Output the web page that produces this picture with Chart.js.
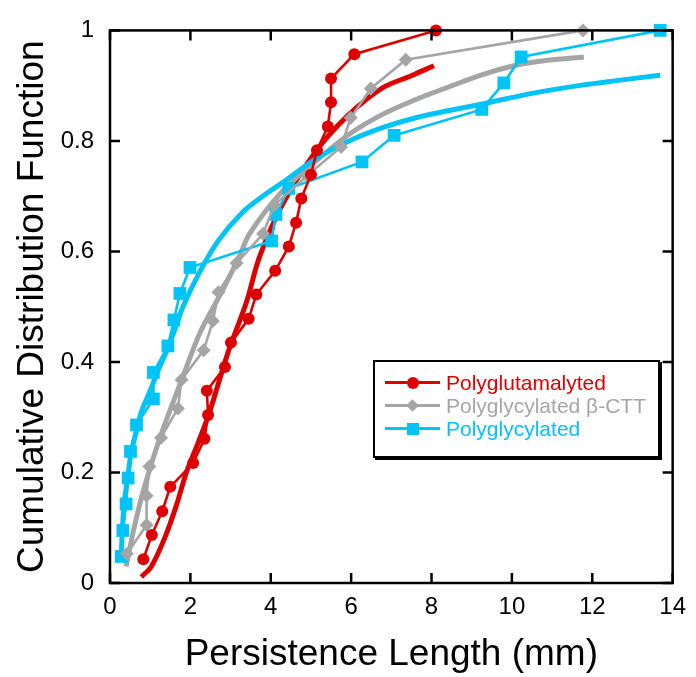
<!DOCTYPE html>
<html>
<head>
<meta charset="utf-8">
<script src="https://cdn.jsdelivr.net/npm/chart.js@4.4.1/dist/chart.umd.min.js"></script>
<style>
html, body { margin: 0; padding: 0; background: #fff; }
#wrap { position: relative; width: 696px; height: 677px; }
#legend {
    position: absolute; left: 373px; top: 360px; width: 283px; height: 85px;
    border: 2px solid #000; box-shadow: 2px 2px 0 #000; background: #fff;
    font-family: "Liberation Sans", Arial, sans-serif; font-size: 21px;
    padding-top: 9px; box-sizing: content-box;
}
.row { height: 23px; line-height: 23px; display: flex; align-items: center; }
.key { position: relative; width: 55px; height: 23px; margin-left: 10px; margin-right: 6px; }
.key .ln { position: absolute; left: 0; right: 0; top: 10px; height: 2.6px; }
.key .mk { position: absolute; left: 50%; top: 50%; }
</style>
</head>
<body>
<div id="wrap">
    <canvas id="cdfChart" width="696" height="677"></canvas>
    <div id="legend"></div>
</div>
<script>
// ── data ──
const glutX = [0.83, 1.04, 1.30, 1.50, 2.07, 2.35, 2.44, 2.41, 2.86, 3.01, 3.45, 3.64, 4.11, 4.45, 4.63, 4.76, 5.00, 5.15, 5.42, 5.50, 5.50, 6.08, 8.11];
const glutY = [0.043, 0.087, 0.130, 0.174, 0.217, 0.261, 0.304, 0.348, 0.391, 0.435, 0.478, 0.522, 0.565, 0.609, 0.652, 0.696, 0.739, 0.783, 0.826, 0.870, 0.913, 0.957, 1.0];
const glutFitX = [0.78, 1.03, 1.37, 1.65, 1.90, 2.20, 2.48, 2.94, 3.39, 3.72, 4.30, 5.13, 5.95, 6.78, 7.50, 8.06];
const glutFitY = [0.011, 0.03, 0.083, 0.14, 0.20, 0.255, 0.31, 0.418, 0.507, 0.59, 0.686, 0.782, 0.848, 0.896, 0.918, 0.936];

const ctdX = [0.42, 0.91, 0.91, 0.98, 1.27, 1.69, 1.78, 2.33, 2.56, 2.70, 3.15, 3.81, 4.09, 4.90, 5.75, 5.99, 6.49, 7.36, 11.77];
const ctdY = [0.053, 0.105, 0.158, 0.211, 0.263, 0.316, 0.368, 0.421, 0.474, 0.526, 0.579, 0.632, 0.684, 0.737, 0.789, 0.842, 0.895, 0.947, 1.0];
const ctdFitX = [0.40, 0.60, 0.83, 1.24, 1.78, 2.24, 2.81, 3.22, 3.47, 4.30, 5.13, 5.95, 6.78, 7.61, 8.44, 9.27, 10.1, 10.9, 11.79];
const ctdFitY = [0.03, 0.10, 0.167, 0.262, 0.367, 0.453, 0.531, 0.591, 0.632, 0.71, 0.764, 0.812, 0.848, 0.875, 0.898, 0.92, 0.937, 0.946, 0.952];

const glyX = [0.28, 0.32, 0.40, 0.45, 0.51, 0.66, 1.08, 1.08, 1.44, 1.59, 1.74, 1.99, 4.02, 4.13, 4.45, 6.27, 7.07, 9.25, 9.80, 10.23, 13.69];
const glyY = [0.048, 0.095, 0.143, 0.190, 0.238, 0.286, 0.333, 0.381, 0.429, 0.476, 0.524, 0.571, 0.619, 0.667, 0.714, 0.762, 0.810, 0.857, 0.905, 0.952, 1.0];
const glyFitX = [0.28, 0.31, 0.36, 0.44, 0.53, 0.66, 0.78, 0.99, 1.20, 1.40, 1.62, 1.82, 2.24, 2.70, 3.30, 3.80, 4.30, 5.13, 5.95, 6.78, 7.61, 8.44, 9.27, 10.5, 11.74, 12.7, 13.69];
const glyFitY = [0.047, 0.10, 0.149, 0.19, 0.238, 0.275, 0.31, 0.346, 0.385, 0.418, 0.46, 0.501, 0.564, 0.62, 0.671, 0.70, 0.725, 0.768, 0.80, 0.824, 0.842, 0.855, 0.867, 0.886, 0.901, 0.91, 0.919];

const xTickValues = [0, 2, 4, 6, 8, 10, 12, 14];
const yTickValues = [0, 0.2, 0.4, 0.6, 0.8, 1];

const RED = '#de0000', GRAY = '#a5a5a5', CYAN = '#00c3f7';
const FONT = '"Liberation Sans", Arial, sans-serif';

const series = [
    { label: 'Polyglutamalyted', xs: glutX, ys: glutY, color: RED, style: 'circle', radius: 6 },
    { label: 'Polyglycylated \u03b2-CTT', xs: ctdX, ys: ctdY, color: GRAY, style: 'rectRot', radius: 7 },
    { label: 'Polyglycylated', xs: glyX, ys: glyY, color: CYAN, style: 'rect', radius: 9 }
];
const fits = [
    { xs: glutFitX, ys: glutFitY, color: RED },
    { xs: ctdFitX, ys: ctdFitY, color: GRAY },
    { xs: glyFitX, ys: glyFitY, color: CYAN }
];

const pts = (xs, ys) => xs.map((x, i) => ({ x, y: ys[i] }));

const datasets = [];
series.forEach((s, i) => {
    datasets.push({
        label: s.label,
        data: pts(s.xs, s.ys),
        showLine: true,
        borderColor: s.color,
        backgroundColor: s.color,
        borderWidth: 2.6,
        pointStyle: s.style,
        pointRadius: s.radius,
        pointBorderWidth: 0,
        pointBackgroundColor: s.color,
        clip: false,
        order: i
    });
});
fits.forEach((f, i) => {
    datasets.push({
        label: 'fit',
        data: pts(f.xs, f.ys),
        showLine: true,
        borderColor: f.color,
        borderWidth: 5,
        pointRadius: 0,
        tension: 0.3,
        clip: false,
        order: 5 - i
    });
});

// ── frame with inward ticks ──
const framePlugin = {
    id: 'frame',
    afterDatasetsDraw(chart) {
        const { ctx, chartArea: a, scales: { x, y } } = chart;
        ctx.save();
        ctx.strokeStyle = '#000';
        ctx.lineWidth = 2.5;
        ctx.strokeRect(a.left, a.top, a.right - a.left, a.bottom - a.top);
        ctx.beginPath();
        xTickValues.forEach(v => {
            const px = x.getPixelForValue(v);
            ctx.moveTo(px, a.bottom); ctx.lineTo(px, a.bottom - 10);
            ctx.moveTo(px, a.top); ctx.lineTo(px, a.top + 10);
        });
        yTickValues.forEach(v => {
            const py = y.getPixelForValue(v);
            ctx.moveTo(a.left, py); ctx.lineTo(a.left + 10, py);
            ctx.moveTo(a.right, py); ctx.lineTo(a.right - 10, py);
        });
        ctx.stroke();
        ctx.restore();
    }
};

const ctx = document.getElementById('cdfChart').getContext('2d');
new Chart(ctx, {
    type: 'scatter',
    data: { datasets },
    options: {
        responsive: false,
        animation: false,
        events: [],
        layout: { padding: { top: 25, right: 22, left: 0, bottom: 0 } },
        plugins: { legend: { display: false }, tooltip: { enabled: false } },
        scales: {
            x: {
                type: 'linear', min: 0, max: 14,
                afterBuildTicks: s => { s.ticks = xTickValues.map(v => ({ value: v })); },
                afterFit: s => { s.height = 94; },
                border: { display: false },
                grid: { display: false, drawTicks: false },
                ticks: { color: '#000', padding: 10, font: { family: FONT, size: 24 } },
                title: {
                    display: true, text: 'Persistence Length (mm)', color: '#000',
                    font: { family: FONT, size: 37 }, padding: { top: 3, bottom: 0 }
                }
            },
            y: {
                type: 'linear', min: 0, max: 1,
                afterBuildTicks: s => { s.ticks = yTickValues.map(v => ({ value: v })); },
                afterFit: s => { s.width = 110; },
                border: { display: false },
                grid: { display: false, drawTicks: false },
                ticks: { color: '#000', padding: 16, font: { family: FONT, size: 24 },
                    callback: v => String(Math.round(v * 10) / 10) },
                title: {
                    display: true, text: 'Cumulative Distribution Function', color: '#000',
                    font: { family: FONT, size: 37 }, padding: { top: 11, bottom: 0 }
                }
            }
        }
    },
    plugins: [framePlugin]
});

// ── legend box ──
function markerHtml(s) {
    if (s.style === 'circle')
        return `<span class="mk" style="width:12px;height:12px;margin:-6px 0 0 -6px;border-radius:50%;background:${s.color}"></span>`;
    if (s.style === 'rectRot')
        return `<span class="mk" style="width:9px;height:9px;margin:-4.5px 0 0 -4.5px;transform:rotate(45deg);background:${s.color}"></span>`;
    return `<span class="mk" style="width:12px;height:12px;margin:-6px 0 0 -6px;background:${s.color}"></span>`;
}
const legend = document.getElementById('legend');
series.forEach(s => {
    const row = document.createElement('div');
    row.className = 'row';
    row.innerHTML = `
        <span class="key"><span class="ln" style="background:${s.color}"></span>${markerHtml(s)}</span>
        <span style="color:${s.color}">${s.label}</span>
    `;
    legend.appendChild(row);
});
</script>
</body>
</html>
